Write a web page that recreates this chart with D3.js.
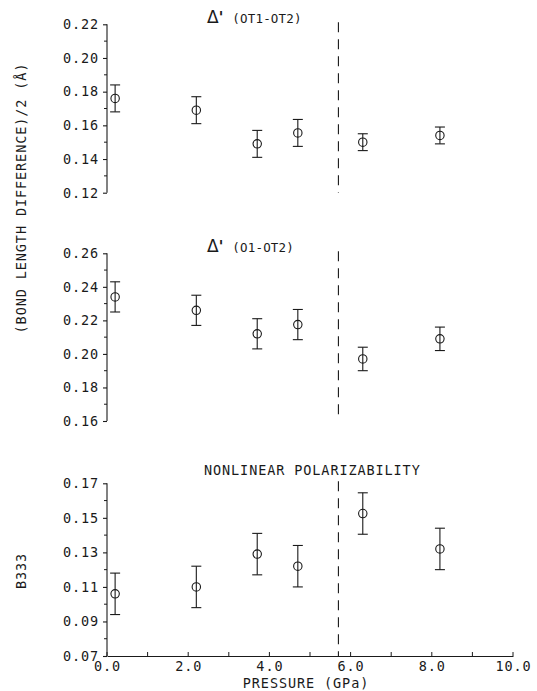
<!DOCTYPE html>
<html>
<head>
<meta charset="utf-8">
<script src="https://cdn.jsdelivr.net/npm/d3@7/dist/d3.min.js"></script>
<style>
  html, body { margin: 0; padding: 0; background: #fff; }
  svg { display: block; }
  text { font-family: "DejaVu Sans Mono", monospace; fill: #1a1a1a; }
</style>
</head>
<body>
<svg id="chart" width="537" height="691"></svg>
<script>
// Pressure points (GPa) shared by the three panels
const pressure = [0.2, 2.2, 3.7, 4.7, 6.3, 8.2];

// Δ'(OT1-OT2): half the bond length difference (Å) with e.s.d.
const deltaOT1OT2 = [0.176, 0.169, 0.149, 0.1555, 0.150, 0.154];
const errOT1OT2   = [0.008, 0.008, 0.008, 0.008, 0.005, 0.005];

// Δ'(O1-OT2)
const deltaO1OT2 = [0.234, 0.226, 0.212, 0.2175, 0.197, 0.209];
const errO1OT2   = [0.009, 0.009, 0.009, 0.009, 0.007, 0.007];

// Nonlinear polarizability B333
const b333    = [0.106, 0.110, 0.129, 0.122, 0.1525, 0.132];
const errB333 = [0.012, 0.012, 0.012, 0.012, 0.012, 0.012];

// Phase transition pressure (dashed line)
const transitionPressure = 5.7;

// Tick values
const xTicksMajor = [0, 2, 4, 6, 8, 10];
const xTicksMinor = [0, 1, 2, 3, 4, 5, 6, 7, 8, 9, 10];
const yTicksTop = [0.12, 0.14, 0.16, 0.18, 0.20, 0.22];
const yTicksMid = [0.16, 0.18, 0.20, 0.22, 0.24, 0.26];
const yTicksBot = [0.07, 0.09, 0.11, 0.13, 0.15, 0.17];

const svg = d3.select("#chart");
const ink = "#1a1a1a";
const axisX0 = 107, axisX1 = 513;

const x = d3.scaleLinear().domain([0, 10]).range([axisX0, axisX1]);

const panels = [
  { values: deltaOT1OT2, errs: errOT1OT2, ticks: yTicksTop, domain: [0.12, 0.22], range: [192.7, 24.3],
    title: "(OT1-OT2)", delta: true, titleY: 23 },
  { values: deltaO1OT2, errs: errO1OT2, ticks: yTicksMid, domain: [0.16, 0.26], range: [421, 253.3],
    title: "(O1-OT2)", delta: true, titleY: 252 },
  { values: b333, errs: errB333, ticks: yTicksBot, domain: [0.07, 0.17], range: [656, 483.3],
    title: "NONLINEAR POLARIZABILITY", delta: false, titleY: 475 }
];

panels.forEach((p, pi) => {
  const y = d3.scaleLinear().domain(p.domain).range(p.range);
  const g = svg.append("g");

  // y axis: outward major ticks, minor ticks halfway between
  const minor = d3.range(p.ticks.length - 1).map(i => (p.ticks[i] + p.ticks[i + 1]) / 2);
  const yAxis = d3.axisLeft(y).tickValues(p.ticks).tickSize(4).tickPadding(4)
    .tickFormat(d3.format(".2f"));
  const ya = g.append("g").attr("transform", `translate(${axisX0},0)`).call(yAxis);
  ya.select(".domain").attr("d", `M0,${y(p.domain[0])}V${y(p.domain[1])}`);
  ya.selectAll("path, line").attr("stroke", ink).attr("stroke-width", 1.1);
  ya.selectAll("text").attr("font-size", 13.5).attr("letter-spacing", 0.9)
    .attr("font-family", "DejaVu Sans Mono").attr("fill", ink);
  g.append("g").selectAll("line").data(minor).join("line")
    .attr("x1", axisX0 - 3).attr("x2", axisX0)
    .attr("y1", d => y(d)).attr("y2", d => y(d))
    .attr("stroke", ink).attr("stroke-width", 1);

  // x axis only on the bottom panel
  if (pi === 2) {
    const xa = g.append("g").attr("transform", `translate(0,${y(p.domain[0])})`)
      .call(d3.axisBottom(x).tickValues(xTicksMajor).tickSize(0).tickPadding(5)
        .tickFormat(d3.format(".1f")));
    xa.select(".domain").attr("stroke", ink).attr("stroke-width", 1.1);
    xa.selectAll("text").attr("font-size", 13.5).attr("letter-spacing", 0.9)
      .attr("font-family", "DejaVu Sans Mono").attr("fill", ink);
    g.append("g").selectAll("line").data(xTicksMinor).join("line")
      .attr("x1", d => x(d)).attr("x2", d => x(d))
      .attr("y1", y(p.domain[0])).attr("y2", y(p.domain[0]) - 4)
      .attr("stroke", ink).attr("stroke-width", 1);
  }

  // dashed transition line
  g.append("line")
    .attr("x1", x(transitionPressure)).attr("x2", x(transitionPressure))
    .attr("y1", y(p.domain[1]) - 2).attr("y2", y(p.domain[0]))
    .attr("stroke", ink).attr("stroke-width", 1.1)
    .attr("stroke-dasharray", "10,7");

  // error bars and open circles
  const pts = pressure.map((pr, i) => ({ p: pr, v: p.values[i], e: p.errs[i] }));
  const eb = g.append("g").selectAll("g").data(pts).join("g");
  eb.append("line")
    .attr("x1", d => x(d.p)).attr("x2", d => x(d.p))
    .attr("y1", d => y(d.v + d.e)).attr("y2", d => y(d.v - d.e))
    .attr("stroke", ink).attr("stroke-width", 1.1);
  eb.append("line")
    .attr("x1", d => x(d.p) - 5).attr("x2", d => x(d.p) + 5)
    .attr("y1", d => y(d.v + d.e)).attr("y2", d => y(d.v + d.e))
    .attr("stroke", ink).attr("stroke-width", 1.1);
  eb.append("line")
    .attr("x1", d => x(d.p) - 5).attr("x2", d => x(d.p) + 5)
    .attr("y1", d => y(d.v - d.e)).attr("y2", d => y(d.v - d.e))
    .attr("stroke", ink).attr("stroke-width", 1.1);
  eb.append("circle")
    .attr("cx", d => x(d.p)).attr("cy", d => y(d.v)).attr("r", 4.2)
    .attr("fill", "none").attr("stroke", ink).attr("stroke-width", 1.1);

  // panel title
  if (p.delta) {
    const t = g.append("text").attr("x", 207).attr("y", p.titleY);
    t.append("tspan").attr("font-family", "DejaVu Sans").attr("font-size", 17).text("Δ");
    t.append("tspan").attr("font-family", "DejaVu Sans").attr("font-weight", "bold")
      .attr("font-size", 15).text("'");
    t.append("tspan").attr("font-size", 12.5).attr("letter-spacing", 0.2).attr("dx", 9).text(p.title);
  } else {
    g.append("text").attr("x", 204).attr("y", p.titleY)
      .attr("font-size", 13.5).attr("letter-spacing", 0.9).text(p.title);
  }
});

// axis titles
svg.append("text")
  .attr("transform", "translate(26,198) rotate(-90)")
  .attr("text-anchor", "middle").attr("font-size", 13.5).attr("letter-spacing", 0.9)
  .text("(BOND LENGTH DIFFERENCE)/2 (Å)");
svg.append("text")
  .attr("transform", "translate(26,571) rotate(-90)")
  .attr("text-anchor", "middle").attr("font-size", 13.5).attr("letter-spacing", 0.9)
  .text("B333");
svg.append("text")
  .attr("x", 306).attr("y", 688)
  .attr("text-anchor", "middle").attr("font-size", 13.5).attr("letter-spacing", 0.9)
  .text("PRESSURE (GPa)");
</script>
</body>
</html>
